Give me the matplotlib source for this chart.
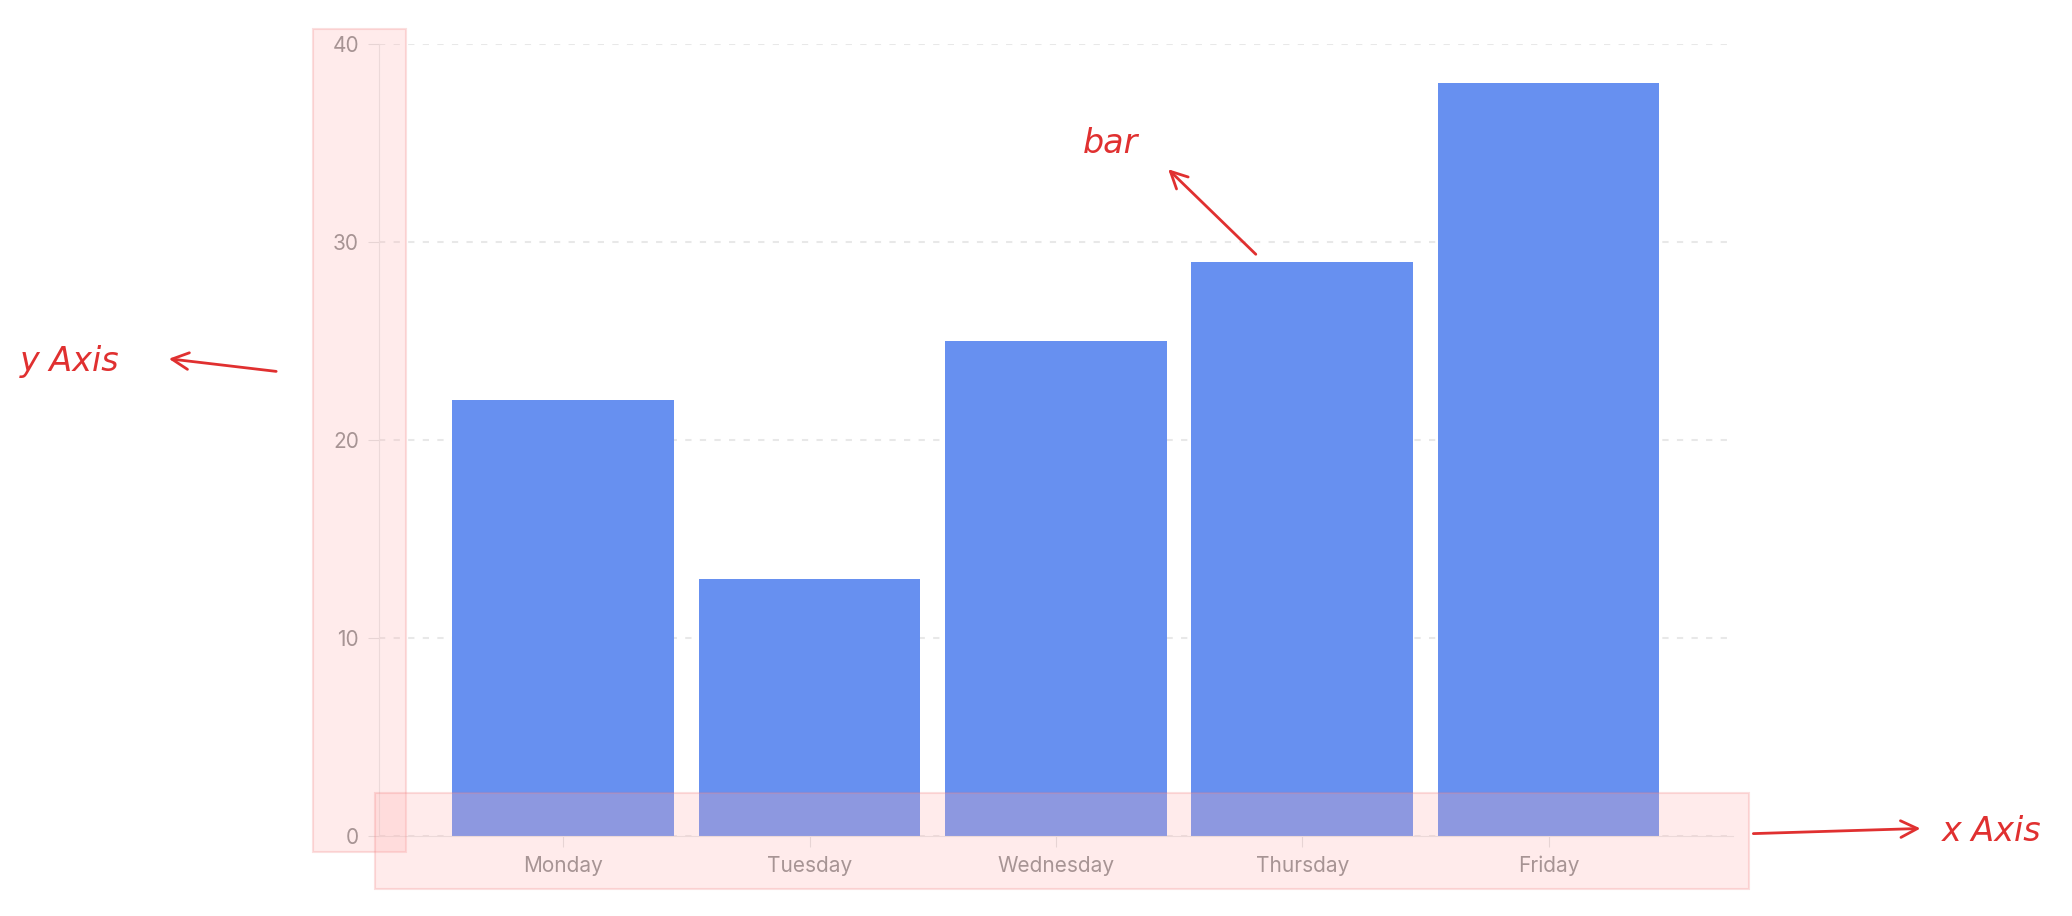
import matplotlib
matplotlib.use("Agg")
import matplotlib.pyplot as plt
from matplotlib.patches import Rectangle, FancyArrowPatch

categories = ["Monday", "Tuesday", "Wednesday", "Thursday", "Friday"]
values = [22, 13, 25, 29, 38]
yticks = [0, 10, 20, 30, 40]

W, H = 1560, 690
fig = plt.figure(figsize=(20.72, 9.16), dpi=100)
def fx(px): return px / W
def fy(py): return 1 - py / H

ax = fig.add_axes([fx(285), fy(630), fx(1305) - fx(285), fy(33) - fy(630)])
x = list(range(len(categories)))
ax.bar(x, values, width=0.9, color="#6790f0", zorder=2)
ax.set_xlim(-0.75, 4.75)
ax.set_ylim(0, 40)
ax.set_yticks(yticks)
ax.set_xticks(x)
ax.set_xticklabels(categories)
for s in ["top", "right"]:
    ax.spines[s].set_visible(False)
for s in ["left", "bottom"]:
    ax.spines[s].set_color("#e6e6e6")
ax.tick_params(colors="#e0e0e0", labelcolor="#8a8a8a", labelsize=15, length=8, pad=6)
for lab in ax.get_xticklabels() + ax.get_yticklabels():
    lab.set_family("Inter")
ax.yaxis.grid(True, linestyle=(0, (3, 4)), color="#e8e8e8", linewidth=1.5, zorder=0)

# annotation boxes
fig.patches.append(Rectangle((fx(236), fy(642)), fx(306) - fx(236), fy(22) - fy(642),
                             transform=fig.transFigure, facecolor="#ffb3b3", alpha=0.25,
                             edgecolor="#f08080", linewidth=1.5, zorder=5))
fig.patches.append(Rectangle((fx(282), fy(670)), fx(1317) - fx(282), fy(597) - fy(670),
                             transform=fig.transFigure, facecolor="#ffb3b3", alpha=0.25,
                             edgecolor="#f08080", linewidth=1.5, zorder=5))

red = "#e03030"
def arrow(p0, p1):
    fig.patches.append(FancyArrowPatch((fx(p0[0]), fy(p0[1])), (fx(p1[0]), fy(p1[1])),
                                       transform=fig.transFigure, arrowstyle="->,head_length=12,head_width=6",
                                       color=red, linewidth=2, zorder=6))
arrow((210, 280), (125, 270))
arrow((947, 193), (878, 126))
arrow((1318, 628), (1448, 624))
fig.text(fx(15), fy(272), "y Axis", color=red, fontsize=24, style="italic", va="center")
fig.text(fx(815), fy(108), "bar", color=red, fontsize=24, style="italic", va="center")
fig.text(fx(1462), fy(626), "x Axis", color=red, fontsize=24, style="italic", va="center")

fig.savefig("out.png", dpi=100)
